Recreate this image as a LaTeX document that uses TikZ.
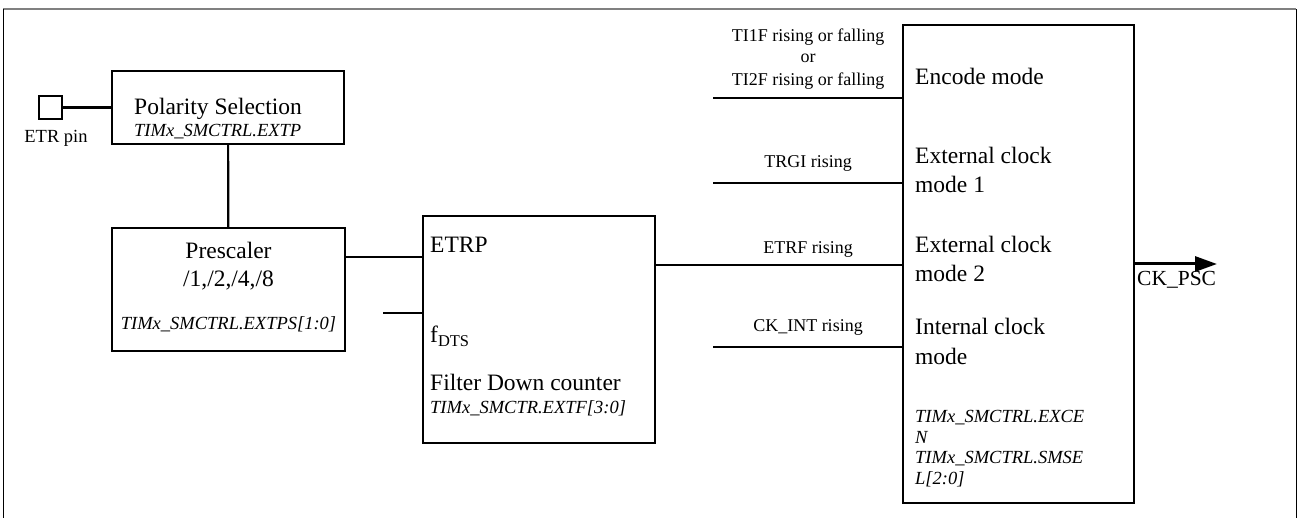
\documentclass[tikz,border=0pt]{standalone}
\usepackage{fontspec}
\setmainfont{Liberation Serif}
\usetikzlibrary{arrows.meta}
\begin{document}
\begin{tikzpicture}[x=1pt,y=-1pt,
  box/.style={draw, line width=2.2pt, inner sep=0pt, fill=none},
  conn/.style={line width=2.2pt},
  big/.style={font=\fontsize{23.5}{29}\selectfont, inner sep=0pt},
  reg/.style={font=\fontsize{18.5}{20.5}\selectfont\itshape, inner sep=0pt},
  lbl/.style={font=\fontsize{18}{21}\selectfont, inner sep=0pt, anchor=base}
]
\useasboundingbox (0,0) rectangle (1298,518);
% frame
\draw[gray, line width=1.5pt] (3,9) -- (1296,9);
\draw[black, line width=1pt] (3,518) -- (3,9.5);
\draw[black, line width=1pt] (1296,518) -- (1296,9.5);

% boxes
\node[box, minimum width=23pt, minimum height=23pt] (pin) at (50.5,107.5) {};
\node[box, minimum width=232pt, minimum height=73pt] (pol) at (228,107.5) {};
\node[box, minimum width=233pt, minimum height=123pt] (pre) at (228.5,289.5) {};
\node[box, minimum width=232pt, minimum height=227pt] (filt) at (539,329.5) {};
\node[box, minimum width=231pt, minimum height=478pt] (bigbox) at (1018.5,264) {};

% texts
\node[lbl, font=\fontsize{18.5}{21}\selectfont] (pintxt) at (56,143) {ETR pin};
\node[big, anchor=base west] (poltxt) at (134,115) {Polarity Selection};
\node[reg, anchor=base west] (polreg) at (134,137) {TIMx\_SMCTRL.EXTP};
\node[big, anchor=base] (pretxt) at (228.5,259) {Prescaler};
\node[big, anchor=base] (pretxt2) at (228.5,287) {/1,/2,/4,/8};
\node[reg, anchor=base] (prereg) at (228.5,330) {TIMx\_SMCTRL.EXTPS[1:0]};
\node[big, anchor=base west] (etrp) at (430,253) {ETRP};
\node[big, anchor=base west] (fdts) at (430,343) {f\textsubscript{DTS}};
\node[big, anchor=base west] (filttxt) at (430,390) {Filter Down counter};
\node[reg, anchor=base west] (filtreg) at (430,413) {TIMx\_SMCTR.EXTF[3:0]};

\node[big, anchor=base west] (m1) at (915,85) {Encode mode};
\node[big, anchor=base west, align=left] (m2) at (915,193) {External clock\\mode 1};
\node[big, anchor=base west, align=left] (m3) at (915,282) {External clock\\mode 2};
\node[big, anchor=base west, align=left] (m4) at (915,364) {Internal clock\\mode};
\node[reg, anchor=base west, align=left] (bigreg) at (915,484) {TIMx\_SMCTRL.EXCE\\N\\TIMx\_SMCTRL.SMSE\\L[2:0]};

\node[lbl] (l1a) at (808,42) {TI1F rising or falling};
\node[lbl] (l1b) at (808,63) {or};
\node[lbl] (l1c) at (808,86) {TI2F rising or falling};
\node[lbl] (l2) at (808,168) {TRGI rising};
\node[lbl] (l3) at (808,254) {ETRF rising};
\node[lbl] (l4) at (808,332) {CK\_INT rising};
\node[big, anchor=base west, font=\fontsize{21.5}{24}\selectfont] (ckpsctxt) at (1137,286) {CK\_PSC};

% connectors
\draw[conn] (pin) -- (pol);
\draw[conn] (pol) -- (pre);
\coordinate (yetrp) at (0,257);
\draw[conn] (pre.east |- yetrp) -- (filt.west |- yetrp);
\coordinate (fin) at (383,313);
\draw[conn] (fin) -- (filt.west |- fin);
\coordinate (yetrf) at (0,265);
\draw[conn] (filt.east |- yetrf) -- (bigbox.west |- yetrf);
\coordinate (in1) at (713,98);
\coordinate (in2) at (713,183);
\coordinate (in4) at (713,347);
\draw[conn] (in1) -- (bigbox.west |- in1);
\draw[conn] (in2) -- (bigbox.west |- in2);
\draw[conn] (in4) -- (bigbox.west |- in4);
\coordinate (outend) at (1217,264);
\draw[line width=3pt, -{Triangle[length=22pt,width=15pt]}] (bigbox.east |- outend) -- (outend);
\end{tikzpicture}
\end{document}
